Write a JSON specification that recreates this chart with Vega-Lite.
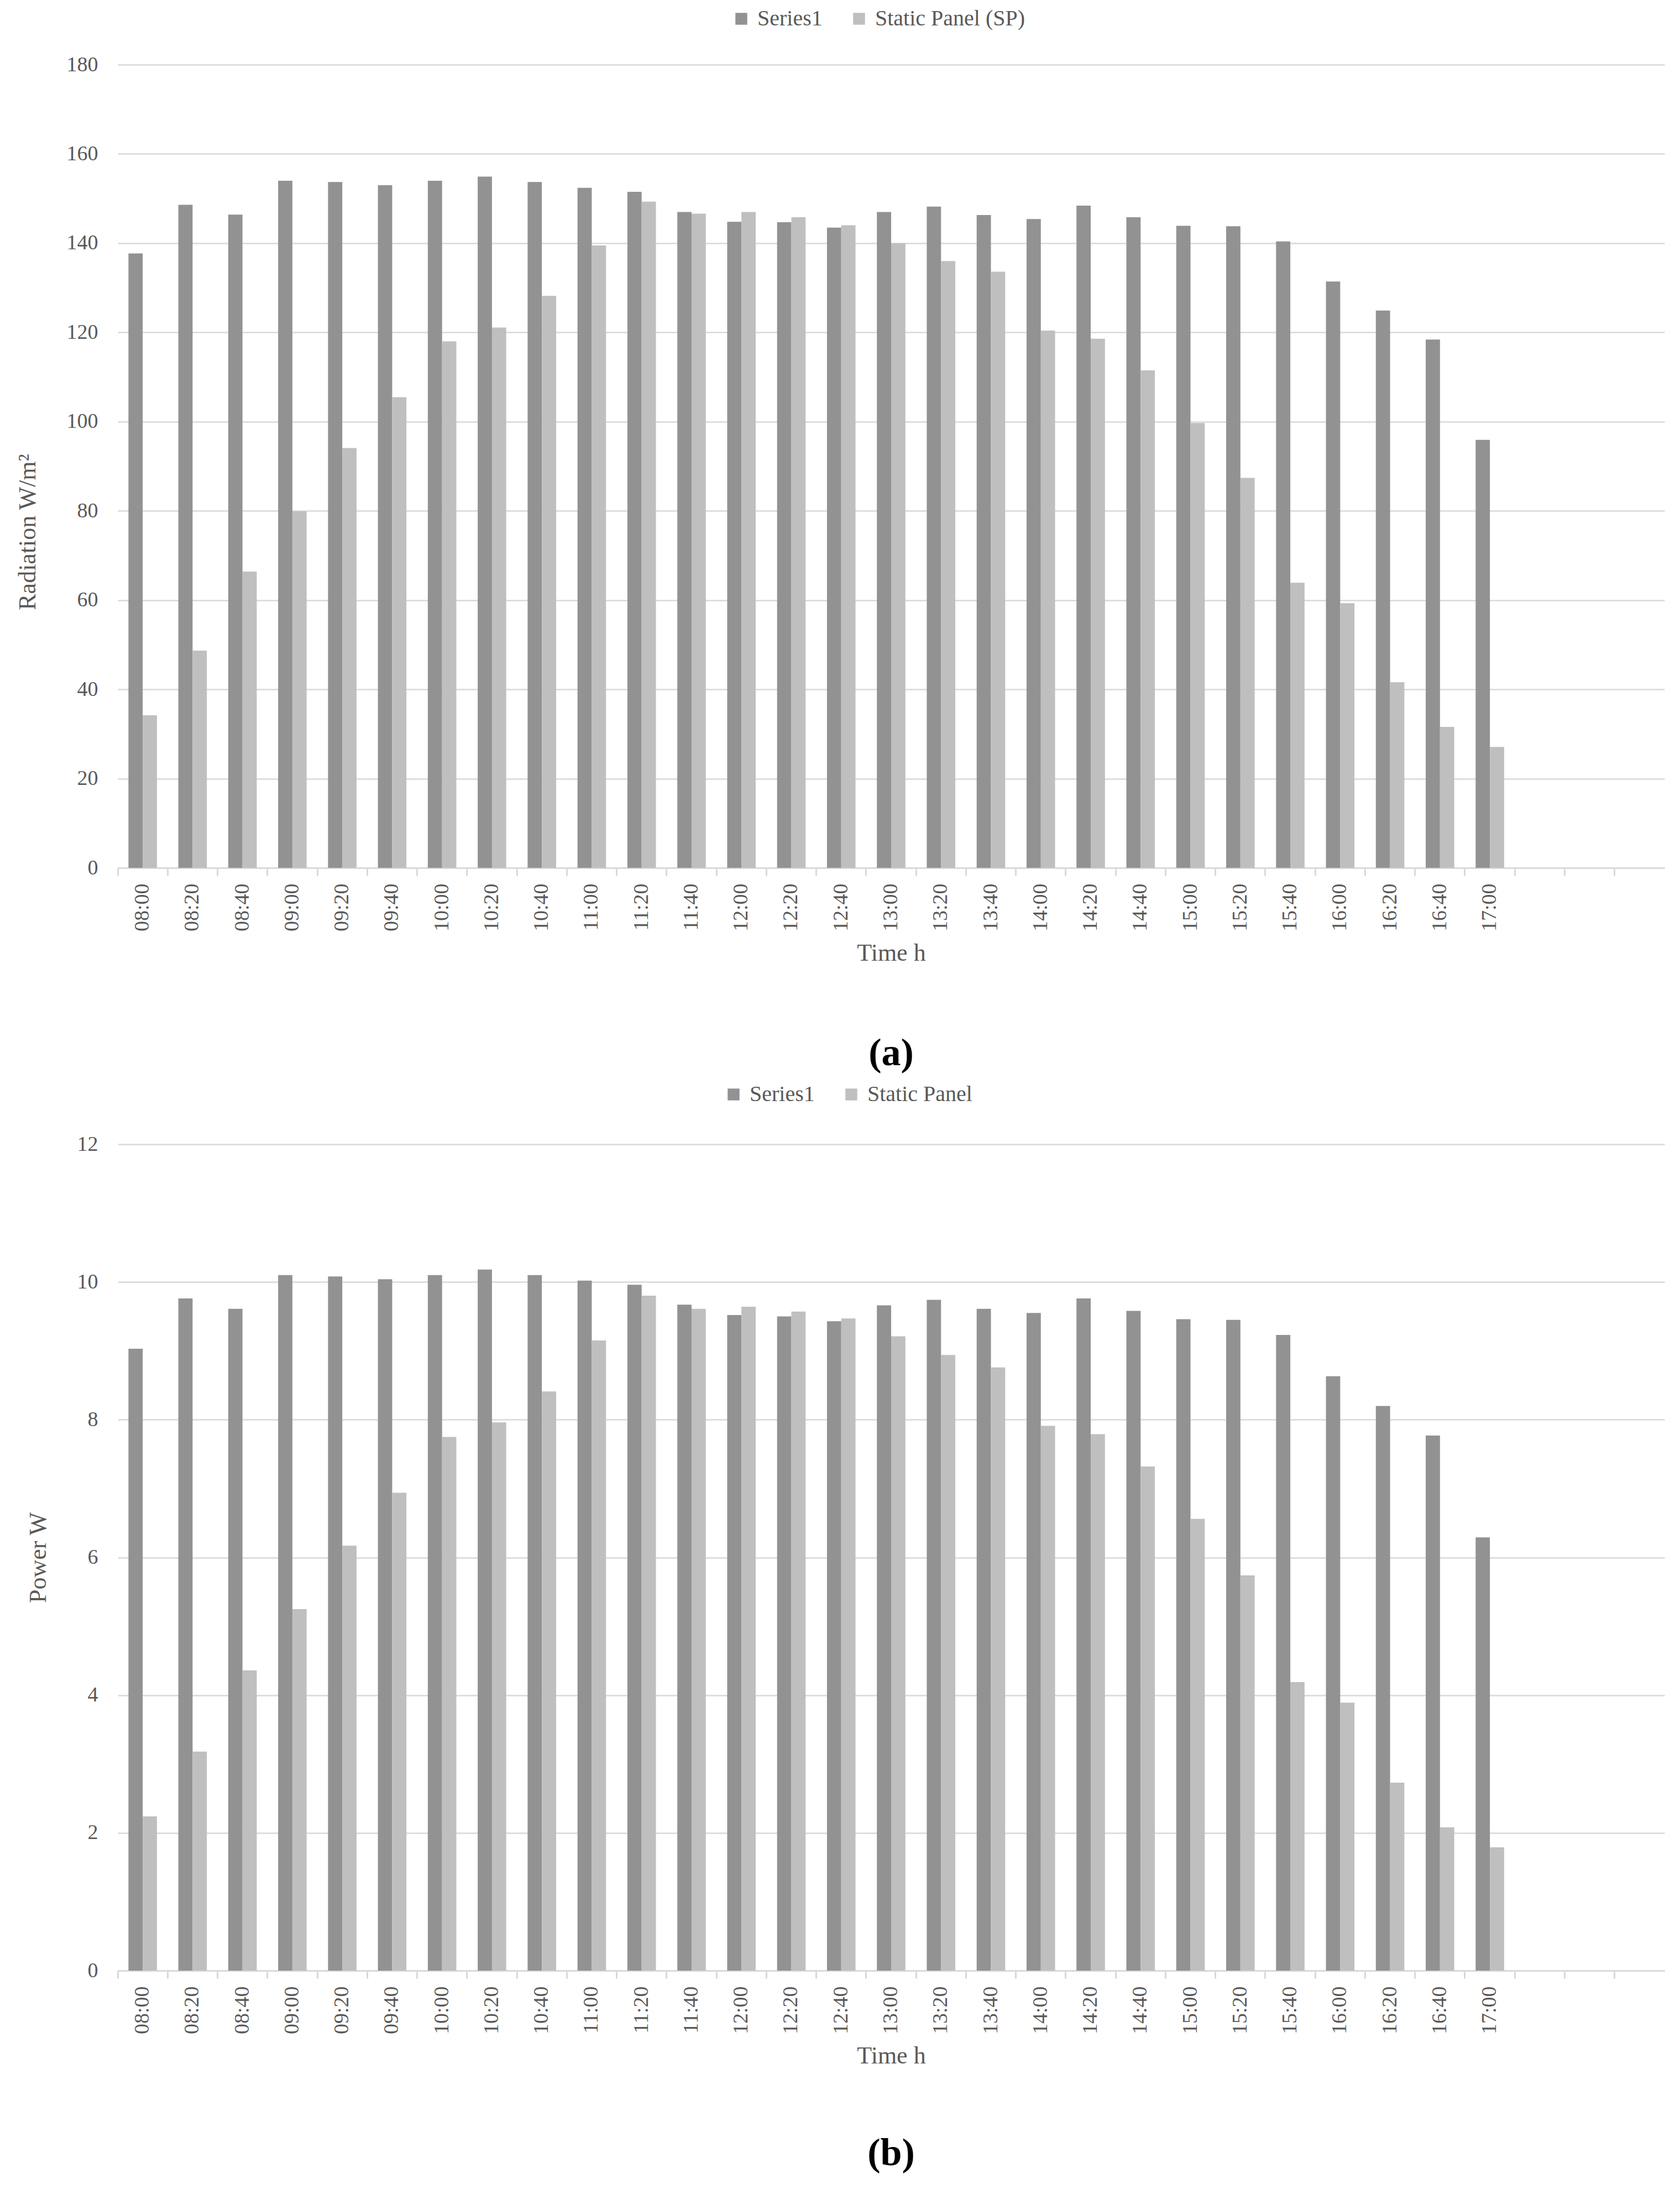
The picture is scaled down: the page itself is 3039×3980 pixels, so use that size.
{
 "$schema": "https://vega.github.io/schema/vega-lite/v6.json",
 "background": "white",
 "padding": {"left": 28, "top": 14, "right": 23, "bottom": 20},
 "spacing": 19,
 "config": {
  "font": "Liberation Serif",
  "view": {"stroke": null},
  "axis": {"labelColor": "#595959", "titleColor": "#595959", "labelFontSize": 38, "titleFontSize": 44, "titleFontWeight": "normal", "labelFont": "Liberation Serif", "titleFont": "Liberation Serif"},
  "legend": {"labelColor": "#595959", "labelFontSize": 40, "labelFont": "Liberation Serif", "labelLimit": 0}
 },
 "resolve": {"scale": {"color": "independent", "x": "independent", "y": "independent", "xOffset": "independent"}, "legend": {"color": "independent"}},
 "datasets": {
  "radiation": [
   {"t":"08:00","s":"Series1","v":137.7},{"t":"08:20","s":"Series1","v":148.6},{"t":"08:40","s":"Series1","v":146.4},{"t":"09:00","s":"Series1","v":154.0},{"t":"09:20","s":"Series1","v":153.7},{"t":"09:40","s":"Series1","v":153.0},{"t":"10:00","s":"Series1","v":154.0},{"t":"10:20","s":"Series1","v":154.9},{"t":"10:40","s":"Series1","v":153.7},{"t":"11:00","s":"Series1","v":152.4},{"t":"11:20","s":"Series1","v":151.5},{"t":"11:40","s":"Series1","v":147.0},{"t":"12:00","s":"Series1","v":144.8},{"t":"12:20","s":"Series1","v":144.7},{"t":"12:40","s":"Series1","v":143.5},{"t":"13:00","s":"Series1","v":147.0},{"t":"13:20","s":"Series1","v":148.2},{"t":"13:40","s":"Series1","v":146.3},{"t":"14:00","s":"Series1","v":145.4},{"t":"14:20","s":"Series1","v":148.4},{"t":"14:40","s":"Series1","v":145.8},{"t":"15:00","s":"Series1","v":143.9},{"t":"15:20","s":"Series1","v":143.8},{"t":"15:40","s":"Series1","v":140.4},{"t":"16:00","s":"Series1","v":131.4},{"t":"16:20","s":"Series1","v":124.9},{"t":"16:40","s":"Series1","v":118.4},{"t":"17:00","s":"Series1","v":95.9},
   {"t":"08:00","s":"Static Panel (SP)","v":34.2},{"t":"08:20","s":"Static Panel (SP)","v":48.7},{"t":"08:40","s":"Static Panel (SP)","v":66.4},{"t":"09:00","s":"Static Panel (SP)","v":79.9},{"t":"09:20","s":"Static Panel (SP)","v":94.1},{"t":"09:40","s":"Static Panel (SP)","v":105.5},{"t":"10:00","s":"Static Panel (SP)","v":118.0},{"t":"10:20","s":"Static Panel (SP)","v":121.1},{"t":"10:40","s":"Static Panel (SP)","v":128.2},{"t":"11:00","s":"Static Panel (SP)","v":139.5},{"t":"11:20","s":"Static Panel (SP)","v":149.3},{"t":"11:40","s":"Static Panel (SP)","v":146.6},{"t":"12:00","s":"Static Panel (SP)","v":147.0},{"t":"12:20","s":"Static Panel (SP)","v":145.8},{"t":"12:40","s":"Static Panel (SP)","v":144.0},{"t":"13:00","s":"Static Panel (SP)","v":140.0},{"t":"13:20","s":"Static Panel (SP)","v":136.0},{"t":"13:40","s":"Static Panel (SP)","v":133.6},{"t":"14:00","s":"Static Panel (SP)","v":120.4},{"t":"14:20","s":"Static Panel (SP)","v":118.6},{"t":"14:40","s":"Static Panel (SP)","v":111.5},{"t":"15:00","s":"Static Panel (SP)","v":99.7},{"t":"15:20","s":"Static Panel (SP)","v":87.4},{"t":"15:40","s":"Static Panel (SP)","v":63.9},{"t":"16:00","s":"Static Panel (SP)","v":59.3},{"t":"16:20","s":"Static Panel (SP)","v":41.6},{"t":"16:40","s":"Static Panel (SP)","v":31.6},{"t":"17:00","s":"Static Panel (SP)","v":27.1}
  ],
  "power": [
   {"t":"08:00","s":"Series1","v":9.03},{"t":"08:20","s":"Series1","v":9.76},{"t":"08:40","s":"Series1","v":9.61},{"t":"09:00","s":"Series1","v":10.10},{"t":"09:20","s":"Series1","v":10.08},{"t":"09:40","s":"Series1","v":10.04},{"t":"10:00","s":"Series1","v":10.10},{"t":"10:20","s":"Series1","v":10.18},{"t":"10:40","s":"Series1","v":10.10},{"t":"11:00","s":"Series1","v":10.02},{"t":"11:20","s":"Series1","v":9.96},{"t":"11:40","s":"Series1","v":9.67},{"t":"12:00","s":"Series1","v":9.52},{"t":"12:20","s":"Series1","v":9.50},{"t":"12:40","s":"Series1","v":9.43},{"t":"13:00","s":"Series1","v":9.66},{"t":"13:20","s":"Series1","v":9.74},{"t":"13:40","s":"Series1","v":9.61},{"t":"14:00","s":"Series1","v":9.55},{"t":"14:20","s":"Series1","v":9.76},{"t":"14:40","s":"Series1","v":9.58},{"t":"15:00","s":"Series1","v":9.46},{"t":"15:20","s":"Series1","v":9.45},{"t":"15:40","s":"Series1","v":9.23},{"t":"16:00","s":"Series1","v":8.63},{"t":"16:20","s":"Series1","v":8.20},{"t":"16:40","s":"Series1","v":7.77},{"t":"17:00","s":"Series1","v":6.29},
   {"t":"08:00","s":"Static Panel","v":2.24},{"t":"08:20","s":"Static Panel","v":3.18},{"t":"08:40","s":"Static Panel","v":4.36},{"t":"09:00","s":"Static Panel","v":5.25},{"t":"09:20","s":"Static Panel","v":6.17},{"t":"09:40","s":"Static Panel","v":6.94},{"t":"10:00","s":"Static Panel","v":7.75},{"t":"10:20","s":"Static Panel","v":7.96},{"t":"10:40","s":"Static Panel","v":8.41},{"t":"11:00","s":"Static Panel","v":9.15},{"t":"11:20","s":"Static Panel","v":9.80},{"t":"11:40","s":"Static Panel","v":9.61},{"t":"12:00","s":"Static Panel","v":9.64},{"t":"12:20","s":"Static Panel","v":9.57},{"t":"12:40","s":"Static Panel","v":9.47},{"t":"13:00","s":"Static Panel","v":9.21},{"t":"13:20","s":"Static Panel","v":8.94},{"t":"13:40","s":"Static Panel","v":8.76},{"t":"14:00","s":"Static Panel","v":7.91},{"t":"14:20","s":"Static Panel","v":7.79},{"t":"14:40","s":"Static Panel","v":7.32},{"t":"15:00","s":"Static Panel","v":6.56},{"t":"15:20","s":"Static Panel","v":5.74},{"t":"15:40","s":"Static Panel","v":4.19},{"t":"16:00","s":"Static Panel","v":3.89},{"t":"16:20","s":"Static Panel","v":2.73},{"t":"16:40","s":"Static Panel","v":2.08},{"t":"17:00","s":"Static Panel","v":1.79}
  ]
 },
 "vconcat": [
  {
   "data": {"name": "radiation"},
   "width": 2798,
   "height": 1453,
   "title": {"text": "(a)", "orient": "bottom", "fontSize": 70, "fontWeight": "bold", "color": "black", "offset": 125, "font": "Liberation Serif"},
   "mark": {"type": "bar"},
   "encoding": {
    "x": {"field": "t", "type": "nominal",
     "scale": {"domain": ["08:00","08:20","08:40","09:00","09:20","09:40","10:00","10:20","10:40","11:00","11:20","11:40","12:00","12:20","12:40","13:00","13:20","13:40","14:00","14:20","14:40","15:00","15:20","15:40","16:00","16:20","16:40","17:00","e1","e2","e3"], "paddingInner": 0, "paddingOuter": 0},
     "axis": {"title": "Time h", "labelAngle": -90, "labelExpr": "length(datum.label) < 3 ? '' : datum.label", "bandPosition": 0, "tickSize": 14, "labelPadding": 14, "domainColor": "#d9d9d9", "domainWidth": 3, "tickColor": "#d9d9d9", "tickWidth": 3, "grid": false, "titlePadding": 18}},
    "xOffset": {"field": "s", "type": "nominal", "scale": {"paddingOuter": 0.75, "paddingInner": 0}},
    "y": {"field": "v", "type": "quantitative", "scale": {"domain": [0, 180], "nice": false},
     "axis": {"values": [0,20,40,60,80,100,120,140,160,180], "title": "Radiation W/m²", "titleY": 845, "domain": false, "ticks": false, "tickSize": 0, "labelPadding": 36, "titlePadding": 48, "gridColor": "#d9d9d9", "gridWidth": 2.5}},
    "color": {"field": "s", "type": "nominal",
     "scale": {"domain": ["Series1", "Static Panel (SP)"], "range": ["#929292", "#bfbfbf"]},
     "legend": {"orient": "none", "legendX": 1108, "legendY": -103, "direction": "horizontal", "title": null, "symbolType": "square", "symbolSize": 460, "symbolStrokeWidth": 0, "labelOffset": 9, "columnPadding": 46, "padding": 0, "labelLimit": 0}}
   }
  },
  {
   "data": {"name": "power"},
   "width": 2798,
   "height": 1495,
   "title": {"text": "(b)", "orient": "bottom", "fontSize": 70, "fontWeight": "bold", "color": "black", "offset": 120, "font": "Liberation Serif"},
   "mark": {"type": "bar"},
   "encoding": {
    "x": {"field": "t", "type": "nominal",
     "scale": {"domain": ["08:00","08:20","08:40","09:00","09:20","09:40","10:00","10:20","10:40","11:00","11:20","11:40","12:00","12:20","12:40","13:00","13:20","13:40","14:00","14:20","14:40","15:00","15:20","15:40","16:00","16:20","16:40","17:00","e1","e2","e3"], "paddingInner": 0, "paddingOuter": 0},
     "axis": {"title": "Time h", "labelAngle": -90, "labelExpr": "length(datum.label) < 3 ? '' : datum.label", "bandPosition": 0, "tickSize": 14, "labelPadding": 14, "domainColor": "#d9d9d9", "domainWidth": 3, "tickColor": "#d9d9d9", "tickWidth": 3, "grid": false, "titlePadding": 18}},
    "xOffset": {"field": "s", "type": "nominal", "scale": {"paddingOuter": 0.75, "paddingInner": 0}},
    "y": {"field": "v", "type": "quantitative", "scale": {"domain": [0, 12], "nice": false},
     "axis": {"values": [0,2,4,6,8,10,12], "title": "Power W", "domain": false, "ticks": false, "tickSize": 0, "labelPadding": 36, "titlePadding": 48, "gridColor": "#d9d9d9", "gridWidth": 2.5}},
    "color": {"field": "s", "type": "nominal",
     "scale": {"domain": ["Series1", "Static Panel"], "range": ["#929292", "#bfbfbf"]},
     "legend": {"orient": "none", "legendX": 1094, "legendY": -110, "direction": "horizontal", "title": null, "symbolType": "square", "symbolSize": 460, "symbolStrokeWidth": 0, "labelOffset": 9, "columnPadding": 46, "padding": 0, "labelLimit": 0}}
   }
  }
 ]
}
